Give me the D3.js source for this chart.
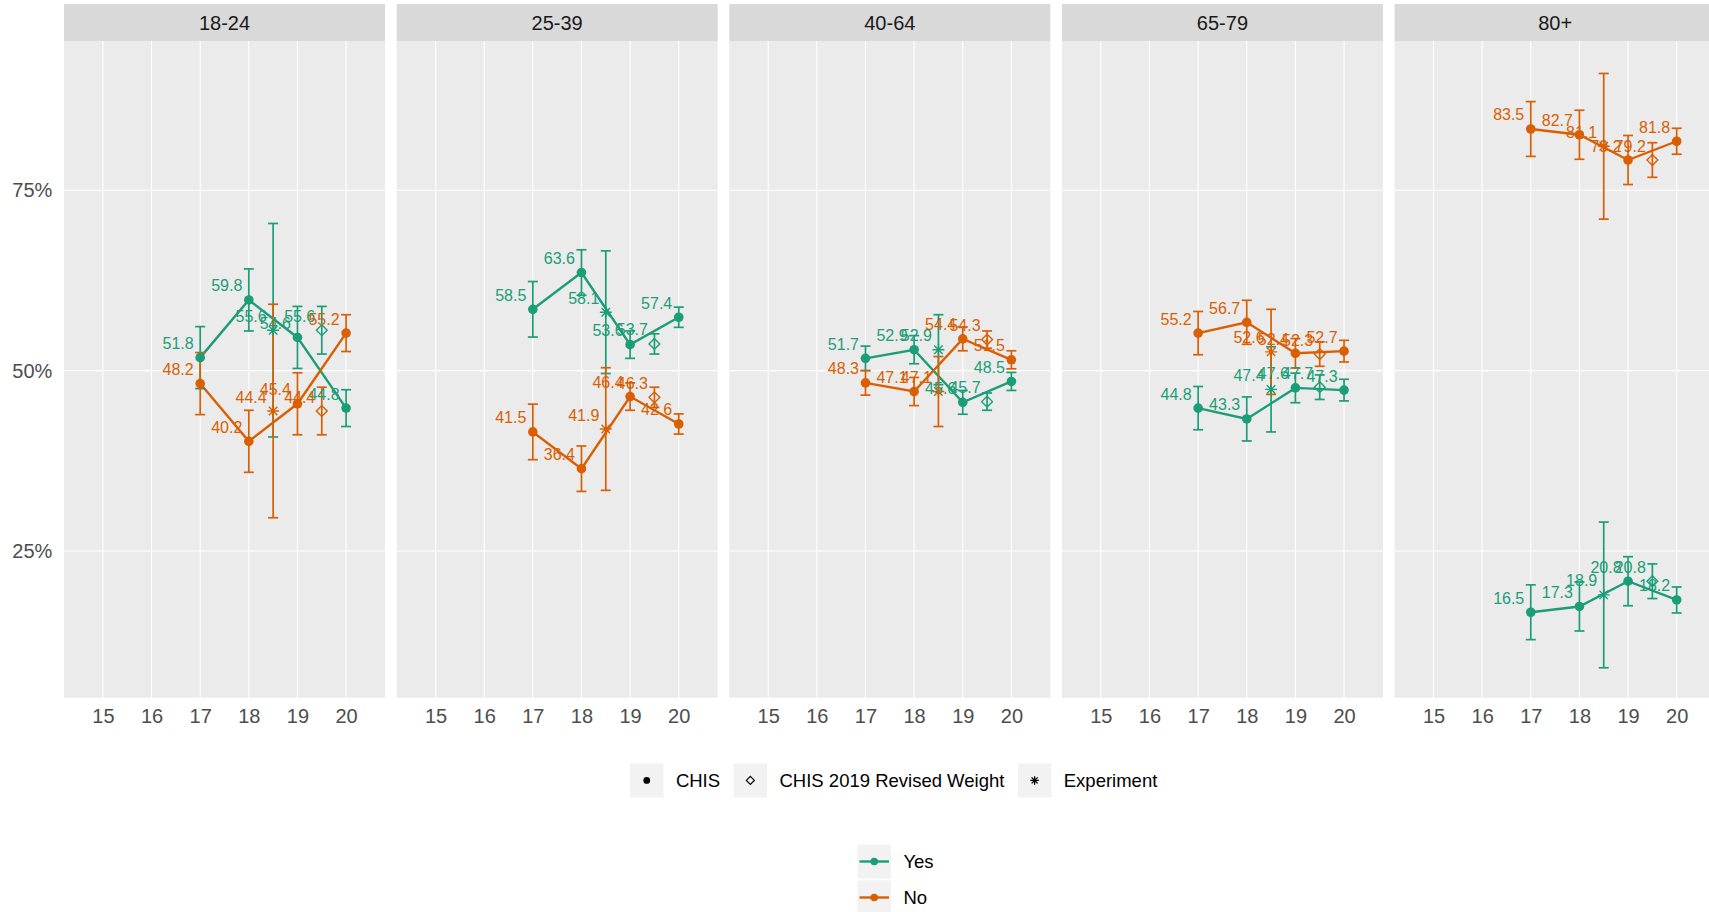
<!DOCTYPE html>
<html>
<head>
<meta charset="utf-8">
<script src="https://cdn.jsdelivr.net/npm/d3@7"></script>
<style>
  html, body { margin: 0; padding: 0; background: #ffffff; }
  svg { display: block; font-family: "Liberation Sans", Arial, Helvetica, sans-serif; }
</style>
</head>
<body>
<svg id="chart" width="1709" height="912"></svg>
<script>
// ---------------- data ----------------
const ageGroups = ["18-24", "25-39", "40-64", "65-79", "80+"];
const chisYears = [17, 18, 19, 20];
const experimentYear = 18.5;
const revisedYear = 19.5;
const xTicks = [15, 16, 17, 18, 19, 20];
const yTicks = [25, 50, 75];

// CHIS estimates (%) per age group, years 17..20
const yesCHIS = [
  [51.8, 59.8, 54.6, 44.8],
  [58.5, 63.6, 53.6, 57.4],
  [51.7, 52.9, 45.6, 48.5],
  [44.8, 43.3, 47.6, 47.3],
  [16.5, 17.3, 20.8, 18.2]
];
const noCHIS = [
  [48.2, 40.2, 45.4, 55.2],
  [41.5, 36.4, 46.4, 42.6],
  [48.3, 47.1, 54.4, 51.5],
  [55.2, 56.7, 52.4, 52.7],
  [83.5, 82.7, 79.2, 81.8]
];
// half-width of the error bars
const moeCHIS = [
  [4.3, 4.3, 4.3, 2.55],
  [3.85, 3.15, 1.9, 1.4],
  [1.7, 1.95, 1.65, 1.25],
  [3.0, 3.05, 2.05, 1.5],
  [3.8, 3.4, 3.4, 1.8]
];
// Experiment
const yesExperiment = [55.6, 58.1, 52.9, 47.4, 18.9];
const noExperiment  = [44.4, 41.9, 47.1, 52.6, 81.1];
const moeExperiment = [14.8, 8.5, 4.85, 5.9, 10.1];
// CHIS 2019 Revised Weight
const yesRevised = [55.6, 53.7, 45.7, 47.7, 20.8];
const noRevised  = [44.4, 46.3, 54.3, 52.3, 79.2];
const moeRevised = [3.3, 1.4, 1.2, 1.7, 2.4];

const seriesNames = ["Yes", "No"];
const seriesColors = ["#1b9e77", "#d95f02"];
const shapeNames = ["CHIS", "CHIS 2019 Revised Weight", "Experiment"];

// ---------------- layout ----------------
const svg = d3.select("#chart");
const FONT = "'Liberation Sans', Arial, Helvetica, sans-serif";
const panelLeft0 = 64, panelStride = 332.65, panelW = 321;
const stripTop = 4, plotTop = 41, plotBottom = 697.7;

const x = d3.scaleLinear().domain([14.2, 20.8]).range([0, panelW]);
const y = d3.scaleLinear().domain([4.65, 95.7]).range([plotBottom, plotTop]);

const series = [
  { name: seriesNames[0], color: seriesColors[0], chis: yesCHIS, exp: yesExperiment, rev: yesRevised },
  { name: seriesNames[1], color: seriesColors[1], chis: noCHIS, exp: noExperiment, rev: noRevised }
];

// shape generators
function asteriskPath(r) {
  const a = r, b = r * Math.SQRT2;
  return `M${-a},${-a}L${a},${a}M${-a},${a}L${a},${-a}M${-b},0L${b},0M0,${-b}L0,${b}`;
}
function diamondPath(r) {
  return `M0,${-r}L${r},0L0,${r}L${-r},0Z`;
}

ageGroups.forEach((grp, gi) => {
  const g = svg.append("g").attr("transform", `translate(${panelLeft0 + gi * panelStride},0)`);

  // panel background
  g.append("rect").attr("x", 0).attr("y", plotTop).attr("width", panelW)
    .attr("height", plotBottom - plotTop).attr("fill", "#ebebeb");
  // strip
  g.append("rect").attr("x", 0).attr("y", stripTop).attr("width", panelW)
    .attr("height", plotTop - stripTop).attr("fill", "#d9d9d9");
  g.append("text").attr("x", panelW / 2).attr("y", (stripTop + plotTop) / 2)
    .attr("dy", "0.36em").attr("text-anchor", "middle")
    .attr("font-size", 20).attr("fill", "#1a1a1a").text(grp);

  // grid
  g.selectAll(".gx").data(xTicks).join("line")
    .attr("x1", d => x(d)).attr("x2", d => x(d))
    .attr("y1", plotTop).attr("y2", plotBottom)
    .attr("stroke", "#ffffff").attr("stroke-width", 1.1);
  g.selectAll(".gy").data(yTicks).join("line")
    .attr("x1", 0).attr("x2", panelW)
    .attr("y1", d => y(d)).attr("y2", d => y(d))
    .attr("stroke", "#ffffff").attr("stroke-width", 1.1);

  // x axis
  const xa = g.append("g").attr("transform", `translate(0,${plotBottom})`)
    .call(d3.axisBottom(x).tickValues(xTicks).tickFormat(d3.format("d")).tickSize(0).tickPadding(10.8));
  xa.select(".domain").remove();
  xa.selectAll("text").attr("font-size", 20).attr("fill", "#4d4d4d").attr("font-family", FONT);

  if (gi === 0) {
    const ya = g.append("g")
      .call(d3.axisLeft(y).tickValues(yTicks).tickFormat(d => d + "%").tickSize(0).tickPadding(11.7));
    ya.select(".domain").remove();
    ya.selectAll("text").attr("font-size", 20).attr("fill", "#4d4d4d").attr("font-family", FONT);
  }

  // build point records
  const recs = series.map(s => {
    const pts = chisYears.map((yr, i) => ({ x: yr, v: s.chis[gi][i], m: moeCHIS[gi][i], shape: "CHIS" }));
    const exp = { x: experimentYear, v: s.exp[gi], m: moeExperiment[gi], shape: "Experiment" };
    const rev = { x: revisedYear, v: s.rev[gi], m: moeRevised[gi], shape: "Revised" };
    return { s, pts, all: [pts[0], pts[1], exp, pts[2], rev, pts[3]] };
  });

  const line = d3.line().x(d => x(d.x)).y(d => y(d.v));
  // lines
  recs.forEach(r => {
    g.append("path").attr("d", line(r.pts)).attr("fill", "none")
      .attr("stroke", r.s.color).attr("stroke-width", 2.4);
  });
  // error bars
  recs.forEach(r => {
    const eb = g.append("g").attr("stroke", r.s.color).attr("stroke-width", 1.7).attr("fill", "none");
    r.all.forEach(d => {
      const cx = x(d.x), y1 = y(d.v + d.m), y2 = y(d.v - d.m);
      eb.append("line").attr("x1", cx).attr("x2", cx).attr("y1", y1).attr("y2", y2);
      eb.append("line").attr("x1", cx - 5).attr("x2", cx + 5).attr("y1", y1).attr("y2", y1);
      eb.append("line").attr("x1", cx - 5).attr("x2", cx + 5).attr("y1", y2).attr("y2", y2);
    });
  });
  // points
  recs.forEach(r => {
    r.all.forEach(d => {
      const cx = x(d.x), cy = y(d.v);
      if (d.shape === "CHIS") {
        g.append("circle").attr("cx", cx).attr("cy", cy).attr("r", 4.8).attr("fill", r.s.color);
      } else if (d.shape === "Revised") {
        g.append("path").attr("d", diamondPath(5.4)).attr("transform", `translate(${cx},${cy})`)
          .attr("fill", "none").attr("stroke", r.s.color).attr("stroke-width", 1.4);
      } else {
        g.append("path").attr("d", asteriskPath(4.2)).attr("transform", `translate(${cx},${cy})`)
          .attr("fill", "none").attr("stroke", r.s.color).attr("stroke-width", 1.4);
      }
    });
  });
  // labels
  recs.forEach(r => {
    r.all.forEach(d => {
      g.append("text").attr("x", x(d.x) - 6.5).attr("y", y(d.v) - 8.5)
        .attr("text-anchor", "end").attr("font-size", 16).attr("fill", r.s.color)
        .text(d3.format(".1f")(d.v));
    });
  });
});

// ---------------- legends ----------------
const LEG_FS = 18.5;
// shape legend
(function () {
  const lg = svg.append("g");
  const keyW = 33.5, keyH = 34, ky = 763.4, cy = ky + keyH / 2;
  let cx = 630;
  shapeNames.forEach((nm, i) => {
    lg.append("rect").attr("x", cx).attr("y", ky).attr("width", keyW).attr("height", keyH).attr("fill", "#f2f2f2");
    const mx = cx + keyW / 2;
    if (i === 0) lg.append("circle").attr("cx", mx).attr("cy", cy).attr("r", 3.4).attr("fill", "#000");
    else if (i === 1) lg.append("path").attr("d", diamondPath(4.0)).attr("transform", `translate(${mx},${cy})`)
      .attr("fill", "none").attr("stroke", "#000").attr("stroke-width", 1.2);
    else lg.append("path").attr("d", asteriskPath(3.0)).attr("transform", `translate(${mx},${cy})`)
      .attr("fill", "none").attr("stroke", "#000").attr("stroke-width", 1.3);
    const t = lg.append("text").attr("x", cx + keyW + 12.4).attr("y", cy).attr("dy", "0.35em")
      .attr("font-size", LEG_FS).attr("fill", "#000").text(nm);
    cx = cx + keyW + 12.4 + t.node().getComputedTextLength() + 13.5;
  });
})();

// colour legend
(function () {
  const lg = svg.append("g");
  const kx = 857.5, keyW = 33.5, keyH = 34;
  const kys = [844.5, 880.5];
  seriesNames.forEach((nm, i) => {
    const ky = kys[i], cy = ky + keyH / 2;
    lg.append("rect").attr("x", kx).attr("y", ky).attr("width", keyW).attr("height", keyH).attr("fill", "#f2f2f2");
    lg.append("line").attr("x1", kx + 2).attr("x2", kx + keyW - 2).attr("y1", cy).attr("y2", cy)
      .attr("stroke", seriesColors[i]).attr("stroke-width", 2.4);
    lg.append("circle").attr("cx", kx + keyW / 2).attr("cy", cy).attr("r", 3.8).attr("fill", seriesColors[i]);
    lg.append("text").attr("x", kx + keyW + 12.4).attr("y", cy).attr("dy", "0.35em")
      .attr("font-size", LEG_FS).attr("fill", "#000").text(nm);
  });
})();
</script>
</body>
</html>
